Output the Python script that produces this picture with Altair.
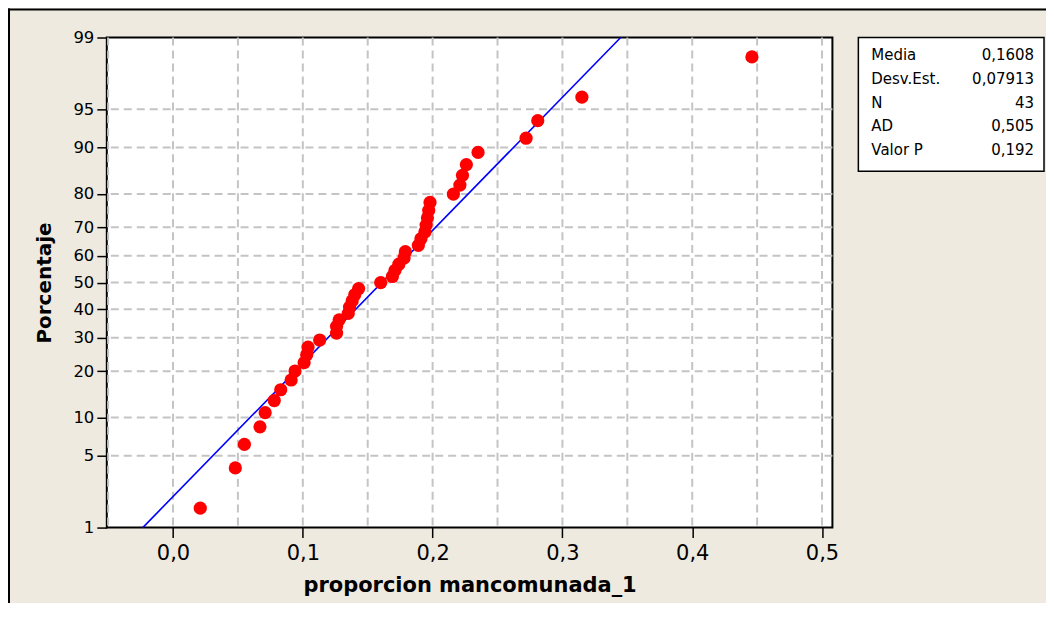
import altair as alt
import pandas as pd
from statistics import NormalDist

# ---- data ----
X_VALUES = [0.021, 0.048, 0.055, 0.067, 0.071, 0.078, 0.083, 0.091, 0.094, 0.101,
            0.103, 0.104, 0.113, 0.126, 0.126, 0.128, 0.135, 0.136, 0.138, 0.140,
            0.143, 0.160, 0.169, 0.171, 0.174, 0.178, 0.179, 0.189, 0.191, 0.194,
            0.195, 0.196, 0.197, 0.198, 0.216, 0.221, 0.223, 0.226, 0.235, 0.272,
            0.281, 0.315, 0.446]
PERCENTS = [1.61, 3.92, 6.22, 8.53, 10.83, 13.13, 15.44, 17.74, 20.05, 22.35,
            24.65, 26.96, 29.26, 31.57, 33.87, 36.18, 38.48, 40.78, 43.09, 45.39,
            47.70, 50.00, 52.30, 54.61, 56.91, 59.22, 61.52, 63.82, 66.13, 68.43,
            70.74, 73.04, 75.35, 77.65, 79.95, 82.26, 84.56, 86.87, 89.17, 91.47,
            93.78, 96.08, 98.39]
MEAN = 0.1608
SD = 0.07913
LINE_PCT = [1, 99]
Y_TICKS = [1, 5, 10, 20, 30, 40, 50, 60, 70, 80, 90, 95, 99]
Y_GRID = [5, 10, 20, 30, 40, 50, 60, 70, 80, 90, 95]
X_TICKS = [0.0, 0.1, 0.2, 0.3, 0.4, 0.5]
X_GRID = [-0.05, 0.0, 0.05, 0.1, 0.15, 0.2, 0.25, 0.3, 0.35, 0.4, 0.45, 0.5]
STAT_NAMES = ["Media", "Desv.Est.", "N", "AD", "Valor P"]
STAT_VALUES = ["0,1608", "0,07913", "43", "0,505", "0,192"]

nd = NormalDist()
ZLO = nd.inv_cdf(0.01)
ZHI = nd.inv_cdf(0.99)
W, H = 727, 491
FONT = "DejaVu Sans"

xscale = alt.Scale(domain=[-0.051, 0.508], nice=False, zero=False)
yscale = alt.Scale(domain=[ZLO, ZHI], nice=False, zero=False)

XTITLE = "proporcion mancomunada_1"
YTITLE = "Porcentaje"

xaxis = alt.Axis(
    values=X_TICKS, grid=False, domain=False,
    labelExpr="replace(format(datum.value, '.1f'), '.', ',')",
    tickSize=10, tickColor="black", tickWidth=1.5,
    labelFont=FONT, labelFontSize=21, labelColor="black", labelPadding=5,
    labelFlush=False, labelOverlap=False, labelBound=False,
    titleFont=FONT, titleFontSize=21,
    titleFontWeight="bold", titleColor="black",
    titleX=W / 2, titleY=58, titleAlign="center", titleBaseline="middle",
)
yaxis = alt.Axis(
    values=[nd.inv_cdf(p / 100) for p in Y_TICKS], grid=False, domain=False,
    labelExpr="format(round(cumulativeNormal(datum.value) * 100), 'd')",
    tickSize=10, tickColor="black", tickWidth=1.5,
    labelFont=FONT, labelFontSize=16.5, labelColor="black", labelPadding=3,
    labelFlush=False, labelOverlap=False, labelBound=False,
    titleFont=FONT, titleFontSize=20,
    titleFontWeight="bold", titleColor="black", titleAngle=270,
    titleX=-62, titleY=H / 2, titleAlign="center", titleBaseline="middle",
)


def X(field):
    return alt.X(field, scale=xscale, axis=xaxis, title=XTITLE)


def Y(field):
    return alt.Y(field, scale=yscale, axis=yaxis, title=YTITLE)


grid_style = dict(color="#C4C4C4", strokeWidth=2, strokeDash=[8, 5])

pts = alt.Chart(pd.DataFrame({"x": X_VALUES, "p": PERCENTS})).transform_calculate(
    z="quantileNormal(datum.p / 100)"
).mark_circle(size=175, color="#FF0000", opacity=1).encode(
    x=X("x:Q"), y=Y("z:Q"),
)

vgrid = alt.Chart(pd.DataFrame({"x": X_GRID})).mark_rule(**grid_style).encode(
    x=X("x:Q")
)
hgrid = alt.Chart(pd.DataFrame({"p": Y_GRID})).transform_calculate(
    z="quantileNormal(datum.p / 100)"
).mark_rule(**grid_style).encode(
    y=Y("z:Q")
)

fit = alt.Chart(pd.DataFrame({"p": LINE_PCT})).transform_calculate(
    z="quantileNormal(datum.p / 100)"
).transform_calculate(
    x=f"{MEAN} + datum.z * {SD}"
).mark_line(color="#0000FF", strokeWidth=1.6).encode(
    x=X("x:Q"), y=Y("z:Q"),
)

one = pd.DataFrame({"a": [0]})
box = alt.Chart(one).mark_rect(fill="white", stroke="black", strokeWidth=1.5).encode(
    x=alt.value(753), x2=alt.value(939), y=alt.value(0), y2=alt.value(134)
)

layers = [vgrid, hgrid, fit, pts, box]
for i, (name, val) in enumerate(zip(STAT_NAMES, STAT_VALUES)):
    yy = 18 + i * 23.7
    layers.append(
        alt.Chart(one).mark_text(align="left", baseline="middle", font=FONT,
                                 fontSize=15, color="black").encode(
            x=alt.value(766), y=alt.value(yy), text=alt.value(name))
    )
    layers.append(
        alt.Chart(one).mark_text(align="right", baseline="middle", font=FONT,
                                 fontSize=15, color="black").encode(
            x=alt.value(929), y=alt.value(yy), text=alt.value(val))
    )

# outer frame (left and top edges of the graph window)
layers.append(alt.Chart(one).mark_rule(color="black", strokeWidth=2).encode(
    x=alt.value(-98), y=alt.value(-29), y2=alt.value(700)))
layers.append(alt.Chart(one).mark_rule(color="black", strokeWidth=2).encode(
    x=alt.value(-99), x2=alt.value(1100), y=alt.value(-28)))

chart = alt.layer(*layers).properties(
    width=W, height=H,
    autosize=alt.AutoSizeParams(type="none"),
    padding={"left": 99, "top": 29, "right": 214, "bottom": 75},
).configure(
    background="#EEEAE0",
).configure_view(
    fill="white", stroke="black", strokeWidth=2,
)

chart.save("out.html", embed_options={"renderer": "svg", "actions": False})
